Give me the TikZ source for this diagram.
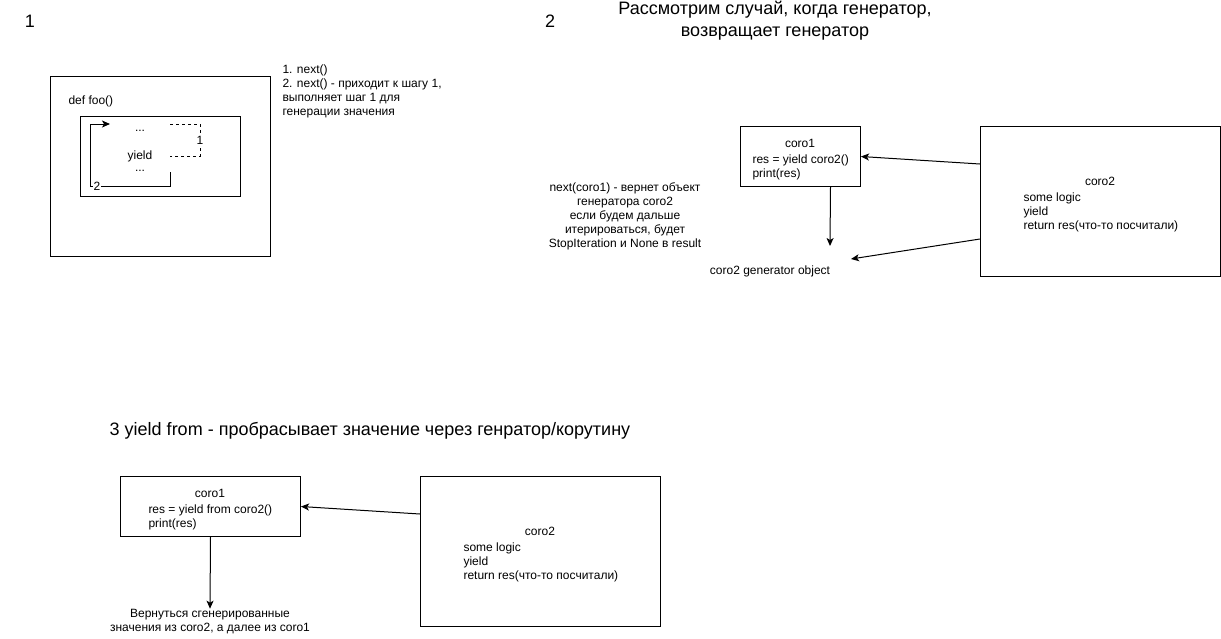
\documentclass[tikz,border=0pt]{standalone}
\usepackage{fontspec}
\setmainfont{Liberation Sans}
\usetikzlibrary{positioning, arrows.meta}

\begin{document}
\begin{tikzpicture}[
    x=1pt, y=-1pt, line width=1pt,
    box/.style={rectangle, draw=black, inner sep=0pt, anchor=north west},
    txt/.style={font=\fontsize{12}{14}\selectfont, inner sep=0pt, align=left},
    ctxt/.style={font=\fontsize{12}{14}\selectfont, inner sep=0pt, align=center},
    big/.style={font=\fontsize{18}{22}\selectfont, inner sep=0pt, align=center},
    tag/.style={font=\fontsize{12}{14}\selectfont, inner sep=1pt, fill=white},
    line/.style={draw, -{Stealth[length=8pt, width=7pt, inset=2pt]}}
    ]
    \useasboundingbox (0,0) rectangle (1221,638);

    % Part 1
    \node (num1) [big] at (30,21) {1};
    \node (foo) [box, minimum width=220pt, minimum height=180pt] at (50,76) {};
    \node (foodef) [txt, anchor=west] at (68,101) {def foo()};
    \node (body) [box, minimum width=160pt, minimum height=80pt] at (80,116) {};
    \node (dots1) [ctxt] at (140,131) {...};
    \node (yield) [ctxt] at (140,156) {yield};
    \node (dots2) [ctxt] at (140,171) {...};
    \node (steps) [txt, anchor=west] at (282,91) {1. next()\\2. next() - приходит к шагу 1,\\выполняет шаг 1 для\\генерации значения};

    \draw [dash pattern=on 3pt off 3pt] (170,124) -- (200,124) -- (200,156) -- (170,156);
    \node (step1) [tag] at (200,140) {1};
    \draw [line] (170,172) -- (170,186) -- (90,186) -- (90,124) -- (110,124);
    \node (step2) [tag] at (97,186) {2};

    % Part 2
    \node (num2) [big] at (550,21) {2};
    \node (title2) [big] at (775,21) {Рассмотрим случай, когда генератор,\\возвращает генератор};
    \node (coro1) [box, minimum width=120pt, minimum height=60pt] at (740,126) {};
    \node (coro1name) [ctxt] at (800,143) {coro1};
    \node (coro1code) [txt, anchor=west] at (752,167) {res = yield coro2()\\print(res)};
    \node (coro2) [box, minimum width=240pt, minimum height=150pt] at (980,126) {};
    \node (coro2name) [ctxt] at (1100,181) {coro2};
    \node (coro2code) [txt, anchor=west] at (1023,212) {some logic\\yield\\return res(что-то посчитали)};
    \node (nextnote) [ctxt] at (625,216.5) {next(coro1) - вернет объект\\генератора coro2\\если будем дальше\\итерироваться, будет\\StopIteration и None в result};
    \node (genobj) [ctxt] at (770,271) {coro2 generator object};
    \coordinate (gendown) at (830,246);
    \coordinate (genside) at (851,259);

    \draw [line] ([yshift=-38pt]coro2.north west) -- (coro1.east);
    \draw [line] ([xshift=30pt]coro1.south) -- (gendown);
    \draw [line] ([yshift=-113pt]coro2.north west) -- (genside);

    % Part 3
    \node (title3) [big] at (370,431) {3 yield from - пробрасывает значение через генратор/корутину};
    \node (from1) [box, minimum width=180pt, minimum height=60pt] at (120,476) {};
    \node (from1name) [ctxt] at (210,493) {coro1};
    \node (from1code) [txt, anchor=west] at (148,517) {res = yield from coro2()\\print(res)};
    \node (from2) [box, minimum width=240pt, minimum height=150pt] at (420,476) {};
    \node (from2name) [ctxt] at (540,531) {coro2};
    \node (from2code) [txt, anchor=west] at (463,562) {some logic\\yield\\return res(что-то посчитали)};
    \node (values) [ctxt] at (210,621.5) {Вернуться сгенерированные\\значения из coro2, а далее из coro1};

    \draw [line] ([yshift=-38pt]from2.north west) -- (from1.east);
    \draw [line] (from1.south) -- (values.north);
\end{tikzpicture}
\end{document}
